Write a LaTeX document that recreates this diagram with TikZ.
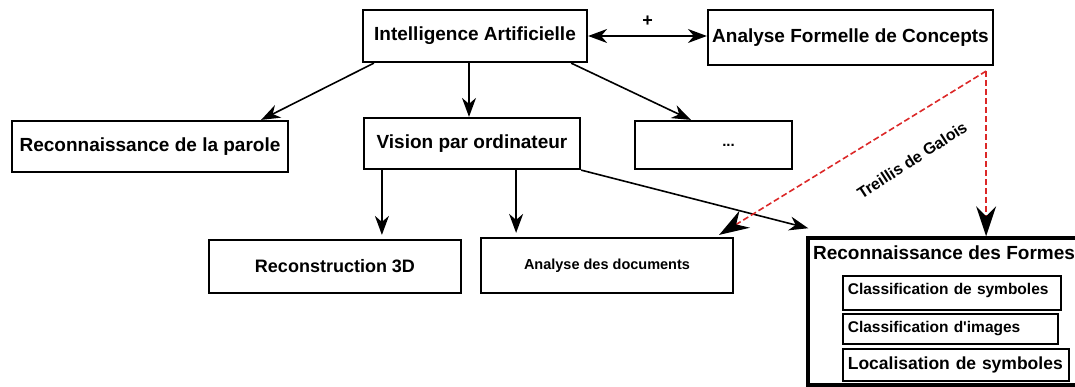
\documentclass[tikz,border=0pt]{standalone}
\usepackage{fontspec}
\setmainfont{Liberation Sans}
\usepackage{xcolor}
\usetikzlibrary{arrows.meta}
\definecolor{rouge}{RGB}{220,40,40}

\begin{document}
\begin{tikzpicture}[x=1pt,y=-1pt]
	\tikzstyle{every node}+=[font=\bfseries]
	\tikzstyle{bloc}=[draw, line width=2.2pt, inner sep=0pt, font=\bfseries\fontsize{19}{22}\selectfont]
	\tikzstyle{sousbloc}=[draw, line width=1.6pt, inner xsep=5pt, inner ysep=0pt, align=left, anchor=north west, execute at begin node={\hyphenpenalty=10000}, font=\bfseries\fontsize{15.5}{19}\selectfont]
	\tikzstyle{fleche}=[line width=1.6pt, -{Stealth[length=19pt,width=14pt,inset=6pt]}]
	\tikzstyle{lien}=[rouge, dash pattern=on 6pt off 3pt, line width=1.6pt, -{Stealth[length=30pt,width=20pt,inset=10pt,color=black]}]
	\useasboundingbox (0,0) rectangle (1075,387);
	\node[bloc, minimum width=224pt, minimum height=52pt] (ia) at (475,36) {Intelligence Artificielle};
	\node[bloc, minimum width=285pt, minimum height=55pt] (afc) at (850.5,37.5) {Analyse Formelle de Concepts};
	\node[bloc, minimum width=276pt, minimum height=51pt] (parole) at (150,146.5) {Reconnaissance de la parole};
	\node[bloc, minimum width=216pt, minimum height=51pt] (vision) at (472,143.5) {Vision par ordinateur};
	\node[bloc, minimum width=157pt, minimum height=48pt, font=\bfseries\fontsize{15}{16}\selectfont] (autres) at (713.5,145) {\hspace*{30pt}...};
	\node[bloc, minimum width=252pt, minimum height=53pt, font=\bfseries\fontsize{18}{21}\selectfont] (recon) at (335,266.5) {Reconstruction 3D};
	\node[bloc, minimum width=252pt, minimum height=55pt, font=\bfseries\fontsize{14.5}{17}\selectfont] (analyse) at (607,265.5) {Analyse des documents};
	\node[bloc, line width=3.5pt, minimum width=270pt, minimum height=147pt] (rdf) at (943,311.5) {};
	\node[font=\bfseries\fontsize{19}{22}\selectfont] (titre) at (944,253) {Reconnaissance des Formes};
	\node[sousbloc, text width=208pt, text height=19pt, text depth=15pt] (classym) at (842,275) {Classification de symboles};
	\node[sousbloc, text width=205pt, minimum height=30pt] (climg) at (842,313) {Classification d\textquotesingle images};
	\node[sousbloc, text width=216pt, minimum height=32pt, font=\bfseries\fontsize{17.5}{20}\selectfont] (locsym) at (842,348) {Localisation de symboles};
	% fleches
	\draw[fleche] ([xshift=12pt]ia.south west) -- ([xshift=-28pt]parole.north east);
	\draw[fleche] ([xshift=-6pt]ia.south) -- ([xshift=-3pt]vision.north);
	\draw[fleche] ([xshift=-17pt]ia.south east) -- ([xshift=57pt]autres.north west);
	\draw[fleche, {Stealth[length=19pt,width=14pt,inset=6pt]}-{Stealth[length=19pt,width=14pt,inset=6pt]}] (ia.east) -- (ia.east -| afc.west) node[midway, above=5pt, font=\bfseries\fontsize{18}{20}\selectfont] (plus) {+};
	\coordinate (v1) at ([xshift=19pt]vision.south west);
	\coordinate (v2) at ([xshift=-65pt]vision.south east);
	\draw[fleche, shorten >=4pt] (v1) -- (v1 |- recon.north);
	\draw[fleche, shorten >=4pt] (v2) -- (v2 |- analyse.north);
	\draw[fleche] (vision.south east) -- ([shift={(2,-8)}]rdf.north west);
	% treillis
	\coordinate (galois) at ([shift={(-8,5)}]afc.south east);
	\draw[lien] (galois) -- (galois |- rdf.north);
	\draw[lien] (galois) -- ([shift={(-15,-2)}]analyse.north east);
	\node[rotate=33, font=\bfseries\fontsize{16}{18}\selectfont] (treillis) at (912,160) {Treillis de Galois};
\end{tikzpicture}
\end{document}
